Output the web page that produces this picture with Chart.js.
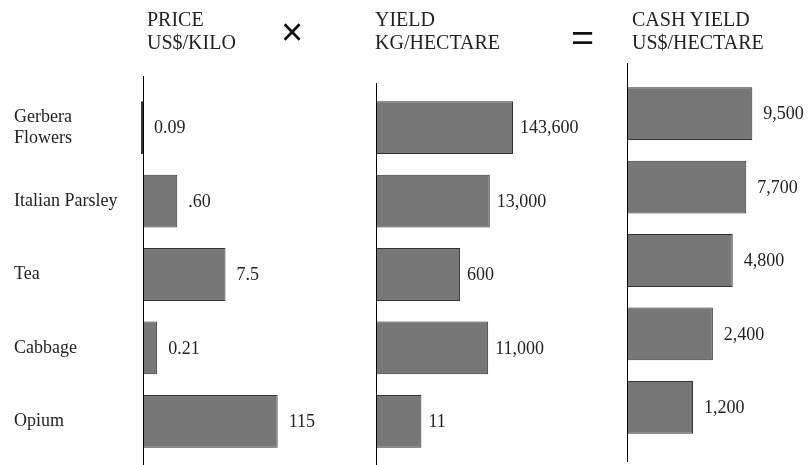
<!DOCTYPE html>
<html lang="en">
<head>
    <meta charset="UTF-8">
    <title>Price x Yield = Cash Yield</title>
    <script src="https://cdn.jsdelivr.net/npm/chart.js"></script>
    <style>
        body {
            margin: 0;
            background: #ffffff;
        }
        .stage {
            position: relative;
            width: 811px;
            height: 465px;
            overflow: hidden;
            font-family: "Liberation Serif", "Times New Roman", serif;
            color: #222;
        }
        .stage canvas {
            position: absolute;
            left: 0;
            top: 0;
        }
        .head {
            position: absolute;
            top: 8px;
            font-size: 20px;
            line-height: 23px;
            white-space: nowrap;
        }
        .op {
            position: absolute;
            font-family: "Liberation Sans", Arial, sans-serif;
            line-height: 1;
            color: #111;
        }
    </style>
</head>
<body>
    <div class="stage">
        <canvas id="priceChart" width="811" height="465"></canvas>
        <canvas id="yieldChart" width="811" height="465"></canvas>
        <canvas id="cashChart" width="811" height="465"></canvas>

        <div class="head" style="left: 147px;">PRICE<br>US$/KILO</div>
        <div class="op" style="left: 281px; top: 13px; font-size: 38px;">&times;</div>
        <div class="head" style="left: 375px;">YIELD<br>KG/HECTARE</div>
        <div class="op" style="left: 571px; top: 20px; font-size: 36px; transform: scaleX(1.1); transform-origin: left top;">=</div>
        <div class="head" style="left: 632px;">CASH YIELD<br>US$/HECTARE</div>
    </div>

    <script>
        // data
        const crops = [['Gerbera', 'Flowers'], 'Italian Parsley', 'Tea', 'Cabbage', 'Opium'];
        const priceValues = [0.09, 0.60, 7.5, 0.21, 115];
        const priceLabels = ['0.09', '.60', '7.5', '0.21', '115'];
        const yieldValues = [143600, 13000, 600, 11000, 11];
        const yieldLabels = ['143,600', '13,000', '600', '11,000', '11'];
        const cashValues = [9500, 7700, 4800, 2400, 1200];
        const cashLabels = ['9,500', '7,700', '4,800', '2,400', '1,200'];

        const serif = 'Liberation Serif';

        // value text at the end of each bar + the tall vertical axis line
        const panelDecor = {
            id: 'panelDecor',
            afterDatasetsDraw(chart, args, opts) {
                const ctx = chart.ctx;
                const area = chart.chartArea;
                ctx.save();
                ctx.strokeStyle = '#000';
                ctx.lineWidth = 1;
                ctx.beginPath();
                ctx.moveTo(area.left + 0.5, area.top - opts.lineUp);
                ctx.lineTo(area.left + 0.5, area.bottom + opts.lineDown);
                ctx.stroke();

                ctx.fillStyle = '#222';
                ctx.font = '18px "' + serif + '"';
                ctx.textAlign = 'left';
                ctx.textBaseline = 'middle';
                const meta = chart.getDatasetMeta(0);
                meta.data.forEach((bar, i) => {
                    const x = Math.max(bar.x, area.left) + opts.gap;
                    ctx.fillText(opts.texts[i], x, bar.y + 1);
                });
                ctx.restore();
            }
        };

        function makePanel(id, values, texts, cfg) {
            const ctx = document.getElementById(id).getContext('2d');
            return new Chart(ctx, {
                type: 'bar',
                data: {
                    labels: crops,
                    datasets: [{
                        data: values,
                        backgroundColor: '#777777',
                        borderColor: '#333333',
                        borderWidth: 1,
                        borderSkipped: false,
                        barPercentage: 0.72,
                        categoryPercentage: 1,
                        clip: false
                    }]
                },
                options: {
                    indexAxis: 'y',
                    responsive: false,
                    animation: false,
                    layout: { padding: cfg.padding },
                    scales: {
                        x: {
                            type: 'logarithmic',
                            min: cfg.min,
                            max: cfg.max,
                            display: false
                        },
                        y: {
                            display: cfg.showCrops,
                            grid: { display: false },
                            border: { display: false },
                            ticks: {
                                color: '#222',
                                crossAlign: 'far',
                                padding: 0,
                                font: { family: serif, size: 18, lineHeight: 1.2 }
                            },
                            afterFit(scale) {
                                if (cfg.showCrops) {
                                    scale.width = cfg.axisWidth;
                                    scale.paddingTop = 0;
                                    scale.paddingBottom = 0;
                                }
                            }
                        }
                    },
                    plugins: {
                        legend: { display: false },
                        tooltip: { enabled: false },
                        panelDecor: { texts: texts, gap: cfg.gap, lineUp: cfg.lineUp, lineDown: cfg.lineDown }
                    }
                },
                plugins: [panelDecor]
            });
        }

        // PRICE US$/KILO
        makePanel('priceChart', priceValues, priceLabels, {
            min: 0.1, max: 1e4, showCrops: true, axisWidth: 129, gap: 11,
            padding: { left: 14, right: 448, top: 91, bottom: 7 },
            lineUp: 15, lineDown: 7
        });

        // YIELD KG/HECTARE
        makePanel('yieldChart', yieldValues, yieldLabels, {
            min: 0.1, max: 1e7, showCrops: false, gap: 7,
            padding: { left: 376, right: 257, top: 91, bottom: 7 },
            lineUp: 8, lineDown: 7
        });

        // CASH YIELD US$/HECTARE
        makePanel('cashChart', cashValues, cashLabels, {
            min: 120, max: 12000, showCrops: false, gap: 11,
            padding: { left: 627, right: 52, top: 77, bottom: 21 },
            lineUp: 14, lineDown: 18
        });
    </script>
</body>
</html>
